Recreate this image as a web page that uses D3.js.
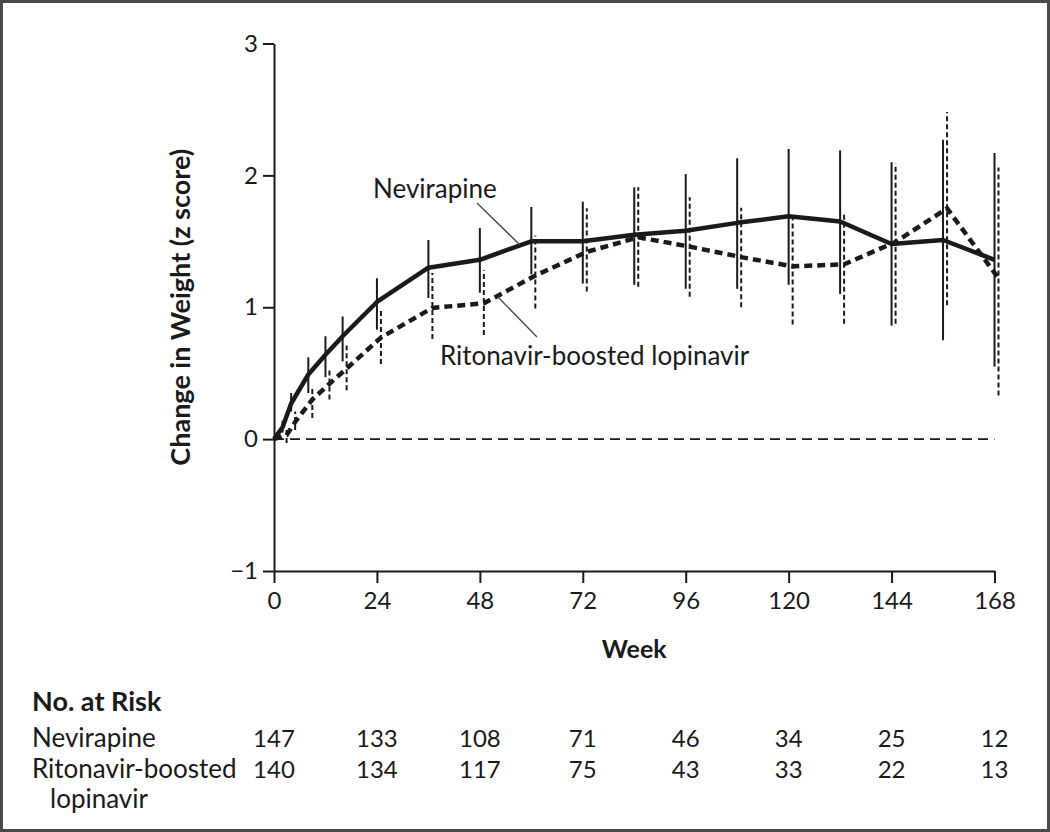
<!DOCTYPE html>
<html>
<head>
<meta charset="utf-8">
<script src="https://cdn.jsdelivr.net/npm/d3@7"></script>
<style>
  html, body { margin: 0; padding: 0; background: #fff; }
  svg { display: block; }
  text { font-family: Lato, "Open Sans", sans-serif; fill: #1a1a1a; }
</style>
</head>
<body>
<svg id="chart" width="1050" height="832"></svg>
<script>
// ---- data ----
const weeks = [0, 2, 4, 8, 12, 16, 24, 36, 48, 60, 72, 84, 96, 108, 120, 132, 144, 156, 168];
const nevMean = [0, 0.09, 0.27, 0.49, 0.64, 0.78, 1.04, 1.30, 1.36, 1.50, 1.50, 1.55, 1.58, 1.64, 1.69, 1.65, 1.48, 1.51, 1.36];
const nevLow  = [0, 0.05, 0.21, 0.35, 0.47, 0.59, 0.83, 1.07, 1.11, 1.25, 1.18, 1.17, 1.14, 1.14, 1.17, 1.10, 0.86, 0.75, 0.55];
const nevHigh = [0, 0.14, 0.35, 0.62, 0.78, 0.93, 1.22, 1.51, 1.60, 1.76, 1.80, 1.91, 2.01, 2.13, 2.20, 2.19, 2.10, 2.27, 2.17];
const ritMean = [0, 0.03, 0.13, 0.30, 0.42, 0.535, 0.77, 0.995, 1.03, 1.24, 1.42, 1.53, 1.46, 1.38, 1.31, 1.325, 1.495, 1.75, 1.22];
const ritLow  = [0, -0.03, 0.07, 0.16, 0.30, 0.37, 0.57, 0.76, 0.79, 0.99, 1.12, 1.155, 1.08, 1.00, 0.87, 0.875, 0.875, 1.015, 0.33];
const ritHigh = [0, 0.07, 0.21, 0.40, 0.52, 0.71, 0.99, 1.26, 1.28, 1.545, 1.75, 1.91, 1.835, 1.755, 1.715, 1.72, 2.09, 2.48, 2.06];

const xTicks = [0, 24, 48, 72, 96, 120, 144, 168];
const yTicks = [-1, 0, 1, 2, 3];
const riskWeeks = [0, 24, 48, 72, 96, 120, 144, 168];
const nevRisk = [147, 133, 108, 71, 46, 34, 25, 12];
const ritRisk = [140, 134, 117, 75, 43, 33, 22, 13];

const seriesNames = ["Nevirapine", "Ritonavir-boosted lopinavir"];
const xTitle = "Week";
const yTitle = "Change in Weight (z score)";
const riskTitle = "No. at Risk";

// ---- layout ----
const svg = d3.select("#chart");
const ink = "#1a1a1a";
const x = d3.scaleLinear().domain([0, 168]).range([274, 994.5]);
const y = d3.scaleLinear().domain([-1, 3]).range([571, 43.5]);
const dodge = 4; // horizontal offset of second series

svg.append("rect").attr("x", 1.5).attr("y", 1.5).attr("width", 1047).attr("height", 829)
  .attr("fill", "#fff").attr("stroke", "#4a4a4a").attr("stroke-width", 3);

// axes
const gy = svg.append("g").attr("transform", `translate(${x(0)},0)`)
  .call(d3.axisLeft(y).tickValues(yTicks).tickSizeInner(11).tickSizeOuter(0).tickPadding(5)
    .tickFormat(d => d < 0 ? "\u2212" + Math.abs(d) : d));
const gx = svg.append("g").attr("transform", `translate(0,${y(-1)})`)
  .call(d3.axisBottom(x).tickValues(xTicks).tickSizeInner(12).tickSizeOuter(0).tickPadding(9));
[gx, gy].forEach(g => {
  g.select(".domain").attr("stroke", ink).attr("stroke-width", 2);
  g.selectAll(".tick line").attr("stroke", ink).attr("stroke-width", 2);
  g.selectAll(".tick text").attr("font-size", 24).attr("fill", ink).attr("font-family", "Lato, sans-serif");
});

// zero reference line
svg.append("line").attr("x1", x(0)).attr("x2", x(168)).attr("y1", y(0)).attr("y2", y(0))
  .attr("stroke", ink).attr("stroke-width", 1.8).attr("stroke-dasharray", "10,6");

// error bars
const nevData = weeks.map((w, i) => ({ w, m: nevMean[i], lo: nevLow[i], hi: nevHigh[i] }));
const ritData = weeks.map((w, i) => ({ w, m: ritMean[i], lo: ritLow[i], hi: ritHigh[i] }));

svg.append("g").selectAll("line").data(nevData.filter(d => d.w > 0)).join("line")
  .attr("x1", d => x(d.w)).attr("x2", d => x(d.w))
  .attr("y1", d => y(d.lo)).attr("y2", d => y(d.hi))
  .attr("stroke", ink).attr("stroke-width", 2);
svg.append("g").selectAll("line").data(ritData.filter(d => d.w > 0)).join("line")
  .attr("x1", d => x(d.w) + dodge).attr("x2", d => x(d.w) + dodge)
  .attr("y1", d => y(d.lo)).attr("y2", d => y(d.hi))
  .attr("stroke", ink).attr("stroke-width", 2).attr("stroke-dasharray", "5,3");

// lines
const lineNev = d3.line().x(d => x(d.w)).y(d => y(d.m));
const lineRit = d3.line().x(d => x(d.w) + (d.w > 0 ? dodge : 0)).y(d => y(d.m));
svg.append("path").datum(nevData).attr("d", lineNev).attr("fill", "none")
  .attr("stroke", ink).attr("stroke-width", 4.5).attr("stroke-linejoin", "round");
svg.append("path").datum(ritData).attr("d", lineRit).attr("fill", "none")
  .attr("stroke", ink).attr("stroke-width", 4.5).attr("stroke-dasharray", "8,5");

// annotations
svg.append("text").attr("x", 373).attr("y", 198).attr("font-size", 26).text(seriesNames[0]);
svg.append("line").attr("x1", 477).attr("y1", 203).attr("x2", 520).attr("y2", 245)
  .attr("stroke", "#444").attr("stroke-width", 1.3);
svg.append("text").attr("x", 440).attr("y", 365).attr("font-size", 26).text(seriesNames[1]);
svg.append("line").attr("x1", 498).attr("y1", 297).attr("x2", 537).attr("y2", 337)
  .attr("stroke", "#444").attr("stroke-width", 1.3);

// axis titles
svg.append("text").attr("x", x(84)).attr("y", 658).attr("text-anchor", "middle")
  .attr("font-size", 25).attr("font-weight", "bold").text(xTitle);
svg.append("text").attr("transform", `translate(190,${y(1)}) rotate(-90)`).attr("text-anchor", "middle")
  .attr("font-size", 27).attr("font-weight", "bold").text(yTitle);

// number at risk table
svg.append("text").attr("x", 32).attr("y", 711).attr("font-size", 27).attr("font-weight", "bold").text(riskTitle);
svg.append("text").attr("x", 32).attr("y", 747).attr("font-size", 26).text("Nevirapine");
svg.append("text").attr("x", 32).attr("y", 778).attr("font-size", 26).text("Ritonavir-boosted");
svg.append("text").attr("x", 50).attr("y", 808).attr("font-size", 26).text("lopinavir");
svg.append("g").selectAll("text").data(nevRisk).join("text")
  .attr("x", (d, i) => x(riskWeeks[i])).attr("y", 747).attr("text-anchor", "middle")
  .attr("font-size", 24).text(d => d);
svg.append("g").selectAll("text").data(ritRisk).join("text")
  .attr("x", (d, i) => x(riskWeeks[i])).attr("y", 778).attr("text-anchor", "middle")
  .attr("font-size", 24).text(d => d);
</script>
</body>
</html>
